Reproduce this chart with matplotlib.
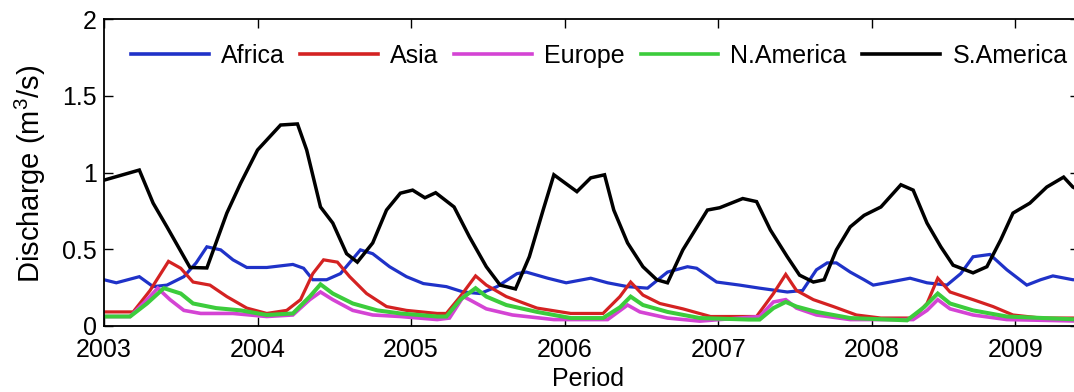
import matplotlib
matplotlib.use("Agg")
import matplotlib.pyplot as plt

plt.rcParams['font.family'] = ['Liberation Sans', 'DejaVu Sans']
plt.rcParams['mathtext.fontset'] = 'custom'
plt.rcParams['mathtext.rm'] = 'Liberation Sans'
plt.rcParams['mathtext.it'] = 'Liberation Sans'

# ---- data (decimal year, discharge) ----
africa_t = [2003.0, 2003.08, 2003.23, 2003.32, 2003.41, 2003.52, 2003.60, 2003.67, 2003.76, 2003.84,
            2003.93, 2004.06, 2004.23, 2004.30, 2004.36, 2004.45, 2004.54, 2004.67, 2004.75, 2004.86,
            2004.97, 2005.08, 2005.23, 2005.34, 2005.45, 2005.56, 2005.69, 2005.75, 2005.89, 2006.01,
            2006.17, 2006.28, 2006.41, 2006.54, 2006.67, 2006.80, 2006.86, 2006.99, 2007.14, 2007.27,
            2007.45, 2007.55, 2007.64, 2007.71, 2007.77, 2007.86, 2007.95, 2008.01, 2008.12, 2008.25,
            2008.36, 2008.49, 2008.58, 2008.66, 2008.77, 2008.88, 2009.01, 2009.10, 2009.18, 2009.31,
            2009.36]
africa_v = [0.30, 0.28, 0.32, 0.255, 0.265, 0.32, 0.41, 0.515, 0.495, 0.43,
            0.38, 0.38, 0.40, 0.375, 0.30, 0.30, 0.34, 0.495, 0.47, 0.385,
            0.32, 0.275, 0.255, 0.22, 0.21, 0.255, 0.34, 0.35, 0.31, 0.28,
            0.31, 0.28, 0.255, 0.245, 0.35, 0.385, 0.375, 0.285, 0.265, 0.245,
            0.22, 0.23, 0.365, 0.41, 0.41, 0.35, 0.30, 0.265, 0.285, 0.31,
            0.28, 0.265, 0.34, 0.45, 0.465, 0.365, 0.265, 0.30, 0.325, 0.30,
            0.30]

asia_t = [2003.0, 2003.19, 2003.30, 2003.42, 2003.50, 2003.58, 2003.69, 2003.80, 2003.93, 2004.06,
          2004.19, 2004.28, 2004.36, 2004.43, 2004.52, 2004.60, 2004.71, 2004.84, 2004.97, 2005.17,
          2005.23, 2005.32, 2005.42, 2005.49, 2005.62, 2005.82, 2006.04, 2006.25, 2006.36, 2006.43,
          2006.51, 2006.62, 2006.77, 2006.95, 2007.25, 2007.36, 2007.44, 2007.51, 2007.62, 2007.75,
          2007.90, 2008.06, 2008.27, 2008.36, 2008.43, 2008.51, 2008.66, 2008.79, 2008.92, 2009.10,
          2009.36]
asia_v = [0.09, 0.09, 0.23, 0.42, 0.375, 0.285, 0.265, 0.19, 0.115, 0.08,
          0.10, 0.17, 0.34, 0.43, 0.415, 0.32, 0.21, 0.125, 0.10, 0.08,
          0.08, 0.19, 0.325, 0.265, 0.19, 0.115, 0.08, 0.08, 0.19, 0.285,
          0.20, 0.145, 0.11, 0.06, 0.06, 0.21, 0.335, 0.23, 0.17, 0.125,
          0.07, 0.05, 0.05, 0.145, 0.31, 0.22, 0.17, 0.125, 0.07, 0.05,
          0.05]

europe_t = [2003.0, 2003.17, 2003.28, 2003.35, 2003.43, 2003.52, 2003.63, 2003.84, 2004.06, 2004.23,
            2004.34, 2004.41, 2004.49, 2004.62, 2004.75, 2004.93, 2005.17, 2005.25, 2005.34, 2005.38,
            2005.49, 2005.66, 2005.93, 2006.28, 2006.41, 2006.49, 2006.67, 2006.88, 2007.27, 2007.36,
            2007.44, 2007.51, 2007.64, 2007.86, 2008.27, 2008.36, 2008.43, 2008.51, 2008.66, 2008.88,
            2009.36]
europe_v = [0.06, 0.06, 0.17, 0.245, 0.17, 0.10, 0.08, 0.08, 0.06, 0.07,
            0.17, 0.22, 0.17, 0.10, 0.07, 0.06, 0.04, 0.05, 0.19, 0.17,
            0.11, 0.07, 0.04, 0.04, 0.135, 0.09, 0.05, 0.03, 0.06, 0.155,
            0.17, 0.115, 0.07, 0.04, 0.04, 0.10, 0.17, 0.11, 0.07, 0.04,
            0.03]

namer_t = [2003.0, 2003.17, 2003.28, 2003.39, 2003.50, 2003.58, 2003.73, 2003.89, 2004.06, 2004.23,
           2004.34, 2004.41, 2004.49, 2004.62, 2004.78, 2004.93, 2005.17, 2005.23, 2005.32, 2005.42,
           2005.49, 2005.62, 2005.82, 2006.04, 2006.25, 2006.36, 2006.43, 2006.51, 2006.67, 2006.88,
           2007.20, 2007.27, 2007.36, 2007.44, 2007.51, 2007.64, 2007.86, 2008.23, 2008.34, 2008.43,
           2008.51, 2008.66, 2008.88, 2009.36]
namer_v = [0.06, 0.06, 0.145, 0.245, 0.21, 0.145, 0.115, 0.10, 0.07, 0.08,
           0.19, 0.27, 0.21, 0.145, 0.10, 0.08, 0.06, 0.06, 0.17, 0.245,
           0.19, 0.135, 0.09, 0.05, 0.05, 0.12, 0.19, 0.135, 0.09, 0.05,
           0.04, 0.04, 0.115, 0.155, 0.125, 0.09, 0.05, 0.035, 0.12, 0.21,
           0.145, 0.10, 0.06, 0.04]

samer_t = [2003.0, 2003.23, 2003.32, 2003.41, 2003.56, 2003.67, 2003.80, 2003.89, 2004.0, 2004.15,
           2004.26, 2004.32, 2004.41, 2004.49, 2004.58, 2004.65, 2004.75, 2004.84, 2004.93, 2005.01,
           2005.09, 2005.16, 2005.28, 2005.38, 2005.49, 2005.58, 2005.68, 2005.77, 2005.86, 2005.93,
           2006.08, 2006.17, 2006.26, 2006.32, 2006.41, 2006.51, 2006.60, 2006.67, 2006.77, 2006.93,
           2007.01, 2007.16, 2007.25, 2007.34, 2007.45, 2007.53, 2007.62, 2007.69, 2007.77, 2007.86,
           2007.95, 2008.06, 2008.19, 2008.27, 2008.36, 2008.45, 2008.53, 2008.66, 2008.75, 2008.84,
           2008.92, 2009.03, 2009.14, 2009.25, 2009.31, 2009.36]
samer_v = [0.95, 1.016, 0.80, 0.645, 0.38, 0.377, 0.735, 0.93, 1.147, 1.31,
           1.317, 1.147, 0.775, 0.67, 0.47, 0.415, 0.54, 0.755, 0.865, 0.885,
           0.835, 0.868, 0.775, 0.58, 0.385, 0.265, 0.24, 0.45, 0.755, 0.985,
           0.875, 0.965, 0.985, 0.755, 0.54, 0.385, 0.30, 0.28, 0.495, 0.755,
           0.77, 0.83, 0.81, 0.625, 0.45, 0.33, 0.285, 0.30, 0.495, 0.645,
           0.72, 0.775, 0.92, 0.885, 0.67, 0.515, 0.395, 0.345, 0.385, 0.56,
           0.735, 0.80, 0.905, 0.97, 0.905, 0.88]

series_names = ['Africa', 'Asia', 'Europe', 'N.America', 'S.America']
year_labels = ['2003', '2004', '2005', '2006', '2007', '2008', '2009']
ytick_vals = [0, 0.5, 1, 1.5, 2]
ytick_labels = ['0', '0.5', '1', '1.5', '2']

# ---- figure ----
W, H = 1074, 392
fig = plt.figure(figsize=(W / 100, H / 100), dpi=100)
ax = fig.add_axes([104 / W, (H - 325.7) / H, (1079 - 104) / W, (325.7 - 19.3) / H])

colors = ['#1f32c8', '#d42222', '#d444d4', '#3ccc3c', '#000000']
widths = [2.3, 2.3, 2.6, 2.9, 2.5]
data = [(africa_t, africa_v), (asia_t, asia_v), (europe_t, europe_v),
        (namer_t, namer_v), (samer_t, samer_v)]
for (t, v), name, c, lw in zip(data, series_names, colors, widths):
    ax.plot(t, v, color=c, lw=lw, label=name, solid_joinstyle='miter')

ax.set_xlim(2003, 2009.35)
ax.set_ylim(0, 2)
xtick_pos = [2003, 2004, 2005, 2006, 2007, 2008, 2008.935]
ax.set_xticks(xtick_pos)
ax.set_xticklabels(year_labels)
ax.set_yticks(ytick_vals)
ax.set_yticklabels(ytick_labels)
ax.tick_params(direction='in', length=6.5, width=1.0, top=True, right=True,
               labelsize=18, colors='black')
ax.tick_params(axis='x', pad=9)
ax.tick_params(axis='y', pad=5)
for s in ax.spines.values():
    s.set_linewidth(1.3)

leg = ax.legend(ncol=5, frameon=False, fontsize=18, loc='center left',
                bbox_to_anchor=(131 / W, 1 - 56 / H), bbox_transform=fig.transFigure,
                handlelength=3.1, handletextpad=0.5, columnspacing=0.62, borderpad=0,
                borderaxespad=0)
for line in leg.get_lines():
    line.set_linewidth(2.6)

fig.text(30 / W, 1 - 174 / H, 'Discharge (m$^3$/s)', rotation=90, ha='center', va='center',
         fontsize=21)
fig.text(588 / W, 1 - 379 / H, 'Period', ha='center', va='center', fontsize=18)

fig.savefig('out.png', dpi=100, facecolor='white')
